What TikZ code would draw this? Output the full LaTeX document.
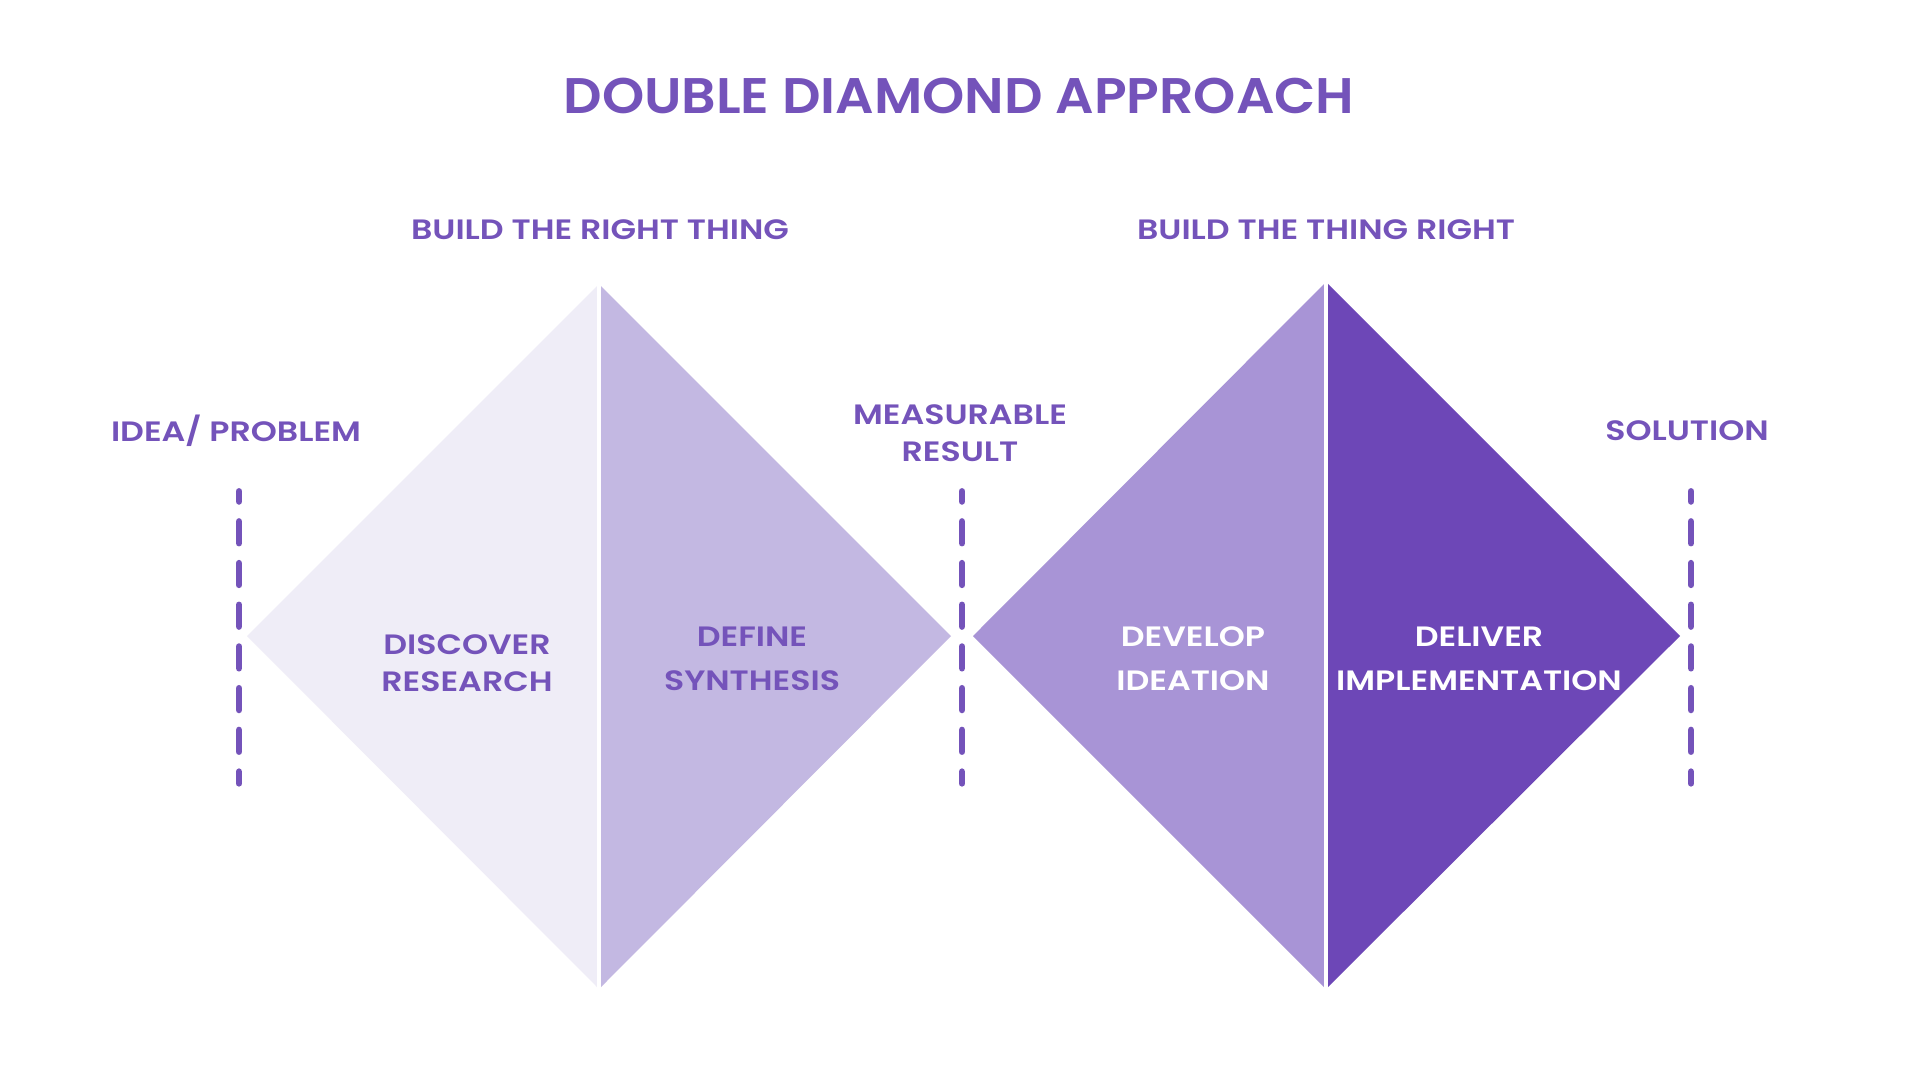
\documentclass[tikz,border=0pt]{standalone}
\usepackage{fontspec}
\setmainfont{Poppins}[UprightFont=*-Medium,BoldFont=*-SemiBold]
\newfontfamily\titlefont{Poppins}[UprightFont=*-SemiBold,FakeStretch=1.075]
\newfontfamily\labelfont{Poppins}[UprightFont=*-SemiBold,FakeStretch=1.185]
\definecolor{txt}{HTML}{7453BA}
\definecolor{dA}{HTML}{EFEDF7}
\definecolor{dB}{HTML}{C3B8E2}
\definecolor{dC}{HTML}{A894D6}
\definecolor{dD}{HTML}{6D47B7}
\tikzset{
  title/.style={text=txt,font=\titlefont\fontsize{50}{56}\selectfont,inner sep=0pt},
  lbl/.style={text=txt,font=\labelfont\fontsize{28}{44}\selectfont,inner sep=0pt,align=center},
  tight/.style={font=\labelfont\fontsize{28}{37}\selectfont},
  wlbl/.style={lbl,text=white},
  sep/.style={draw=txt,line width=6.7pt,line cap=round,dash pattern=on 21.6pt off 20.1pt,dash phase=11.6pt},
  split/.style={draw=white,line width=3.5pt}
}
\begin{document}
\begin{tikzpicture}[x=1pt,y=-1pt]
\useasboundingbox[fill=white] (0,0) rectangle (1920,1080);
% left diamond
\fill[dA] (247,636) -- (599,284) -- (599,989) -- cycle;
\fill[dB] (599,284) -- (951,636) -- (599,989) -- cycle;
\draw[split] (599,280) -- (599,993);
% right diamond
\fill[dC] (973,636) -- (1326,282) -- (1326,989) -- cycle;
\fill[dD] (1326,282) -- (1680,636) -- (1326,989) -- cycle;
\draw[split] (1326,278) -- (1326,993);
% separators
\coordinate (s1a) at (239,491.4); \coordinate (s1b) at (239,783.3);
\coordinate (s2a) at (962,491.4); \coordinate (s2b) at (962,783.3);
\coordinate (s3a) at (1691,491.4); \coordinate (s3b) at (1691,783.3);
\draw[sep] (s1a) -- (s1b);
\draw[sep] (s2a) -- (s2b);
\draw[sep] (s3a) -- (s3b);
% texts
\node[title] (t) at (959,96) {DOUBLE DIAMOND APPROACH};
\node[lbl] (b1) at (600,230) {BUILD THE RIGHT THING};
\node[lbl] (b2) at (1326,230) {BUILD THE THING RIGHT};
\node[lbl] (ip) at (236,431) {IDEA/ PROBLEM};
\node[lbl,tight] (mr) at (960,433) {MEASURABLE\\RESULT};
\node[lbl] (so) at (1687,431) {SOLUTION};
\node[lbl,tight] (dis) at (467,663) {DISCOVER\\RESEARCH};
\node[lbl] (def) at (752,659) {DEFINE\\SYNTHESIS};
\node[wlbl] (dev) at (1193,659) {DEVELOP\\IDEATION};
\node[wlbl] (del) at (1479,659) {DELIVER\\IMPLEMENTATION};
\end{tikzpicture}
\end{document}
